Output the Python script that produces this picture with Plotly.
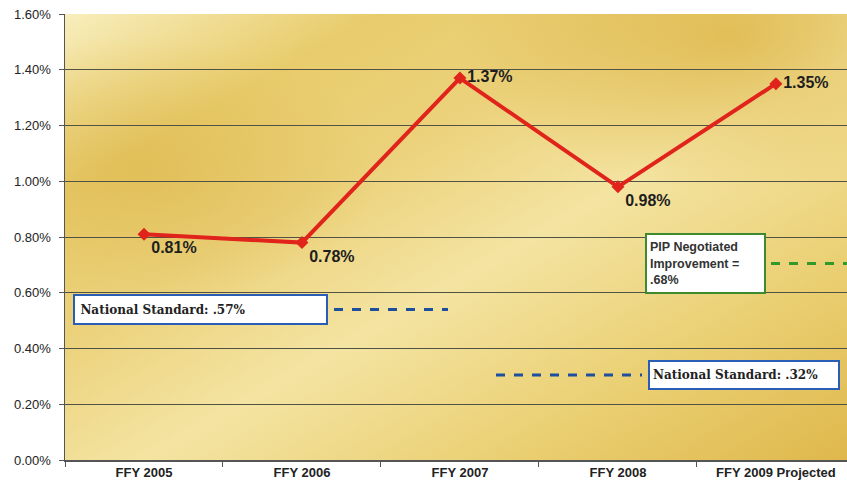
import base64
import plotly.graph_objects as go

categories = ["FFY 2005", "FFY 2006", "FFY 2007", "FFY 2008", "FFY 2009 Projected"]
rates = [0.81, 0.78, 1.37, 0.98, 1.35]
label_pos = ["bottom right", "bottom right", "middle right", "bottom right", "middle right"]
y_ticks = [0.0, 0.2, 0.4, 0.6, 0.8, 1.0, 1.2, 1.4, 1.6]
y_tick_labels = ["0.00%", "0.20%", "0.40%", "0.60%", "0.80%", "1.00%", "1.20%", "1.40%", "1.60%"]
std_2006_text = "National Standard: .57%"
std_2008_text = "National Standard: .32%"
pip_text = "PIP Negotiated<br>Improvement =<br>.68%"

W, H = 847, 494
L, R, T, B = 65, 0, 14, 34
PW = W - L - R


def px(x):
    return (x - L) / PW


svg = f"""<svg xmlns='http://www.w3.org/2000/svg' width='800' height='450' viewBox='0 0 800 450' preserveAspectRatio='none'>
<defs>
<linearGradient id='g' x1='0' y1='0' x2='1' y2='1'>
<stop offset='0' stop-color='#f8eebc'/>
<stop offset='0.2' stop-color='#e8cc6c'/>
<stop offset='0.36' stop-color='#ebd17a'/>
<stop offset='0.55' stop-color='#f4e4a2'/>
<stop offset='0.78' stop-color='#eacf72'/>
<stop offset='1' stop-color='#dfb84c'/>
</linearGradient>
<radialGradient id='r1' cx='0.85' cy='0.05' r='0.35'>
<stop offset='0' stop-color='#dbb240' stop-opacity='0.7'/>
<stop offset='1' stop-color='#dbb240' stop-opacity='0'/>
</radialGradient>
<radialGradient id='r2' cx='0.1' cy='0.35' r='0.3'>
<stop offset='0' stop-color='#dab244' stop-opacity='0.5'/>
<stop offset='1' stop-color='#dab244' stop-opacity='0'/>
</radialGradient>
</defs>
<rect width='800' height='450' fill='url(#g)'/>
<rect width='800' height='450' fill='url(#r1)'/>
<rect width='800' height='450' fill='url(#r2)'/>
</svg>"""
bg_uri = "data:image/svg+xml;base64," + base64.b64encode(svg.encode()).decode()

fig = go.Figure()
fig.add_trace(go.Scatter(
    x=categories, y=rates, mode="lines+markers+text",
    line=dict(color="#e0231b", width=4),
    marker=dict(symbol="diamond", size=10, color="#e0231b"),
    text=[f"{v:.2f}%" for v in rates], textposition=label_pos,
    textfont=dict(family="Liberation Sans, Arial", size=16, color="#1e1e1e", weight="bold"),
    cliponaxis=False, hoverinfo="skip", showlegend=False,
))

fig.add_layout_image(dict(source=bg_uri, xref="paper", yref="paper", x=0, y=1,
                          sizex=1, sizey=1, sizing="stretch", layer="below"))

# dashed reference lines
fig.add_shape(type="line", xref="paper", yref="y", x0=px(334), x1=px(448), y0=0.54, y1=0.54,
              line=dict(color="#1d4f9c", width=3, dash="dash"))
fig.add_shape(type="line", xref="paper", yref="y", x0=px(496), x1=px(642), y0=0.305, y1=0.305,
              line=dict(color="#1d4f9c", width=3, dash="dash"))
fig.add_shape(type="line", xref="paper", yref="y", x0=px(771), x1=1.0, y0=0.705, y1=0.705,
              line=dict(color="#2f9a2a", width=3, dash="dash"))

serif = "DejaVu Serif"
fig.add_annotation(xref="paper", yref="y", x=px(73), y=0.54, xanchor="left", yanchor="middle",
                   text="&#8201;" + std_2006_text, showarrow=False, align="left", width=245, height=21,
                   bgcolor="white", bordercolor="#2a5db5", borderwidth=2, borderpad=3,
                   font=dict(family=serif, size=12, color="#222222", weight="bold"))
fig.add_annotation(xref="paper", yref="y", x=px(648), y=0.305, xanchor="left", yanchor="middle",
                   text=std_2008_text, showarrow=False, align="left", width=182, height=20,
                   bgcolor="white", bordercolor="#2a5db5", borderwidth=2, borderpad=3,
                   font=dict(family=serif, size=12, color="#222222", weight="bold"))
fig.add_annotation(xref="paper", yref="y", x=px(645), y=0.705, xanchor="left", yanchor="middle",
                   text=pip_text, showarrow=False, align="left", width=111, height=51,
                   bgcolor="white", bordercolor="#3d8b2e", borderwidth=2, borderpad=3,
                   font=dict(family="Liberation Sans, Arial", size=12.5, color="#333333", weight="bold"))

fig.update_layout(
    width=W, height=H,
    margin=dict(l=L, r=R, t=T, b=B, autoexpand=False),
    paper_bgcolor="white", plot_bgcolor="rgba(0,0,0,0)",
    xaxis=dict(range=[-0.5, 4.45], showgrid=False, showline=True, linecolor="#555555", linewidth=1.5,
               ticks="outside", tickson="boundaries", ticklen=5, tickcolor="#555555",
               tickfont=dict(family="Liberation Sans, Arial", size=13, color="#222222", weight="bold"),
               fixedrange=True),
    yaxis=dict(range=[0, 1.6], tickvals=y_ticks, ticktext=y_tick_labels, showgrid=True,
               gridcolor="#4f5244", gridwidth=1, showline=True, linecolor="#555555", linewidth=1.5,
               ticks="outside", ticklen=5, tickcolor="#555555", zeroline=False, ticklabelstandoff=5,
               tickfont=dict(family="Liberation Sans, Arial", size=13, color="#222222"),
               fixedrange=True),
    font=dict(family="Liberation Sans, Arial"),
)

fig.write_html("out.html", config={"displayModeBar": False, "staticPlot": True},
               post_script="document.body.style.margin='0';document.body.style.overflow='hidden';")
